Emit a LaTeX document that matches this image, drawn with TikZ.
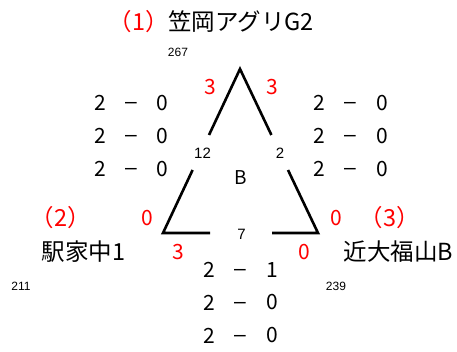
\documentclass[tikz,border=0pt]{standalone}
\usepackage{fontspec}
\setmainfont{Noto Sans CJK JP}
\newfontfamily\numfont{Liberation Sans}
\begin{document}
\begin{tikzpicture}[x=1pt,y=-1pt,
  big/.style={inner sep=0pt,font=\fontsize{21}{21}\selectfont},
  bigred/.style={big,text=red},
  dashlbl/.style={inner sep=0pt,anchor=base,font=\numfont\fontsize{21}{21}\selectfont},
  teamlbl/.style={inner sep=0pt,font=\fontsize{23.5}{23.5}\selectfont},
  small/.style={inner sep=0pt,font=\numfont\fontsize{12}{12}\selectfont},
  mid/.style={inner sep=0pt,font=\numfont\fontsize{15}{15}\selectfont},
  triline/.style={line width=2.6pt,line cap=butt}]
\useasboundingbox (0,0) rectangle (457,351);
% triangle
\coordinate (A) at (240,69);
\coordinate (L1) at (209,135);
\coordinate (L2) at (192.6,170);
\coordinate (BL) at (163,233);
\coordinate (R1) at (271.4,135);
\coordinate (R2) at (288,170);
\coordinate (BR) at (318,233);
\coordinate (M1) at (210,233);
\coordinate (M2) at (272,233);
\draw[triline,line join=miter] (L1) -- (A) -- (R1);
\draw[triline,line join=miter] (L2) -- (BL) -- (M1);
\draw[triline,line join=miter] (R2) -- (BR) -- (M2);
% title
\node[teamlbl,text=red] (p1) at (139,22) {（1）};
\node[teamlbl] (t1) at (241,22) {笠岡アグリG2};
\node[small] (n267) at (178,52) {267};
\node[bigred] (s1l) at (210,87) {3};
\node[bigred] (s1r) at (272.5,87) {3};
% left scores
\foreach \y/\a/\b [count=\i] in {103/2/0,136/2/0,169/2/0}{
  \node[big] (la\i) at (100.5,\y) {\a};
  \node[dashlbl] (lm\i) at (131,\y+5.5) {–};
  \node[big] (lb\i) at (162.5,\y) {\b};
}
% right scores
\foreach \y/\a/\b [count=\i] in {103/2/0,136/2/0,169/2/0}{
  \node[big] (ra\i) at (319,\y) {\a};
  \node[dashlbl] (rm\i) at (350,\y+5.5) {–};
  \node[big] (rb\i) at (382.5,\y) {\b};
}
\node[mid] (n12) at (202.5,153) {12};
\node[mid] (n2) at (280,153) {2};
\node[inner sep=0pt,font=\fontsize{19}{19}\selectfont] (B) at (240.5,178) {B};
\node[teamlbl,text=red] (p2) at (61,218) {（2）};
\node[bigred] (s2t) at (147.5,218) {0};
\node[bigred] (s3t) at (336,218) {0};
\node[teamlbl,text=red] (p3) at (390,218) {（3）};
\node[mid] (n7) at (241.5,234) {7};
\node[teamlbl] (t2) at (83.5,252) {駅家中1};
\node[bigred] (s2b) at (178,252.5) {3};
\node[bigred] (s3b) at (304,252.5) {0};
\node[teamlbl] (t3) at (398.5,252) {近大福山B};
\node[small] (n211) at (21,286) {211};
\node[small] (n239) at (336,286) {239};
% bottom scores
\foreach \y/\a/\b [count=\i] in {270/2/1,302.5/2/0,335.5/2/0}{
  \node[big] (ba\i) at (209,\y) {\a};
  \node[dashlbl] (bm\i) at (240,\y+5.5) {–};
  \node[big] (bb\i) at (272,\y) {\b};
}
\end{tikzpicture}
\end{document}
